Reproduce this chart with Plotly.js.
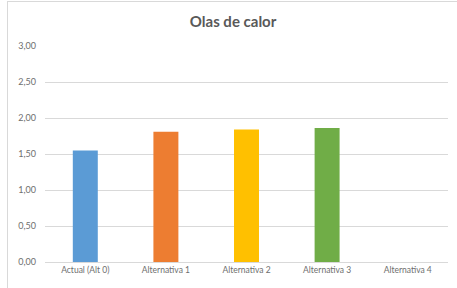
<!DOCTYPE html>
<html><head><meta charset="utf-8">
<script src="https://cdn.plot.ly/plotly-3.0.1.min.js"></script>
<style>html,body{margin:0;padding:0;background:#fff}#c{width:457px;height:288px;position:absolute;left:0;top:0}
#b{position:absolute;left:7px;top:1px;width:450px;height:287px;border-left:1px solid #d9d9d9;border-top:1px solid #d9d9d9;pointer-events:none}</style>
</head><body><div id="c"></div><div id="b"></div>
<script>
const categories = ["Actual (Alt 0)", "Alternativa 1", "Alternativa 2", "Alternativa 3", "Alternativa 4"];
const values = [1.55, 1.81, 1.84, 1.86, null];
const colors = ["#5B9BD5", "#ED7D31", "#FFC000", "#70AD47", "#A5A5A5"];
const yTicks = [0, 0.5, 1, 1.5, 2, 2.5, 3];

Plotly.newPlot("c", [{
  type: "bar", x: categories, y: values,
  marker: {color: colors}, hoverinfo: "none"
}], {
  width: 457, height: 288,
  margin: {l: 45, r: 9, t: 46, b: 26},
  separators: ", ",
  title: {text: "<b>Olas de calor</b>", x: 0.51, xanchor: "center", y: 0.925, yanchor: "middle",
          font: {family: "Lato, 'Open Sans', sans-serif", size: 15, color: "#595959"}},
  bargap: 0.69,
  font: {family: "Lato, 'Open Sans', sans-serif", size: 8, color: "#6e6e6e"},
  xaxis: {showgrid: false, showline: true, linecolor: "#d9d9d9", linewidth: 1, ticks: "", ticklen: 0, tickfont: {size: 8.5, color: "#6e6e6e"}},
  yaxis: {range: [0, 3], tickvals: yTicks, tickformat: ".2f", showgrid: true, gridcolor: "#d9d9d9", gridwidth: 1,
          zeroline: false, showline: false, ticks: "", ticklabelstandoff: 8, tickfont: {size: 9, color: "#6e6e6e"}},
  paper_bgcolor: "#fff", plot_bgcolor: "#fff", showlegend: false
}, {staticPlot: true});
</script></body></html>
